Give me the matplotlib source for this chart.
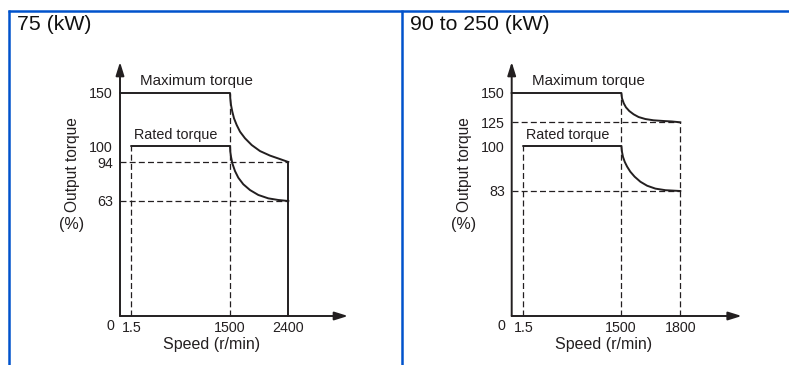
import numpy as np
import matplotlib
matplotlib.use('Agg')
import matplotlib.pyplot as plt
from matplotlib.lines import Line2D

plt.rcParams['font.family'] = ['Liberation Sans', 'DejaVu Sans']
plt.rcParams['lines.scale_dashes'] = False

W, H = 789, 365
INK = '#231f20'
BLUE = '#0052cc'

titles = ['75 (kW)', '90 to 250 (kW)']

# 75 kW panel
left_xticks = [1.5, 1500, 2400]
left_yticks = [63, 94, 100, 150]
left_max_speed = [0, 1500, 1508, 1512, 1523, 1543, 1569, 1610, 1661, 1737, 1840, 1967, 2120, 2273, 2400]
left_max_torque = [150, 150, 150, 145, 138.7, 132.4, 126.1, 119.8, 113.5, 107.3, 100.9, 98.1, 96.4, 95.1, 94]
left_rated_speed = [1.5, 1500, 1508, 1512, 1523, 1543, 1584, 1635, 1711, 1814, 1941, 2094, 2247, 2400]
left_rated_torque = [100, 100, 100, 97.9, 96.0, 93.0, 86.8, 81.5, 76.3, 71.7, 67.8, 65.1, 63.8, 63]

# 90 to 250 kW panel
right_xticks = [1.5, 1500, 1800]
right_yticks = [83, 100, 125, 150]
right_max_speed = [0, 1500, 1502, 1505, 1514, 1525, 1542, 1564, 1589, 1623, 1665, 1716, 1758, 1800]
right_max_torque = [150, 150, 150, 145.5, 141.2, 137.8, 134.6, 131.8, 129.5, 127.8, 126.7, 126.1, 125.7, 125]
right_rated_speed = [1.5, 1500, 1502, 1505, 1510, 1519, 1531, 1547, 1569, 1598, 1632, 1674, 1725, 1800]
right_rated_torque = [100, 100, 100, 97.8, 95.9, 94.0, 92.2, 90.3, 88.4, 86.5, 85.0, 83.9, 83.3, 83]

# schematic (non-linear) axis spacing: value -> pixels from origin
left_xscale = ([0, 1.5, 1500, 2400, 3300], [0, 11.3, 109.5, 168.3, 228])
left_yscale = ([0, 63, 94, 100, 150, 175], [0, 115, 154, 170, 223, 254])
right_xscale = ([0, 1.5, 1500, 1800, 2400], [0, 11.6, 109.3, 168.6, 230])
right_yscale = ([0, 83, 100, 125, 150, 175], [0, 125, 170, 193.7, 223, 254])


def piecewise(vals, pos):
    vals = np.asarray(vals, float)
    pos = np.asarray(pos, float)
    fwd = lambda v: np.interp(v, vals, pos)
    inv = lambda p: np.interp(p, pos, vals)
    return fwd, inv


def fx(x):
    return x / W


def fy(y):
    return 1 - y / H


fig = plt.figure(figsize=(W / 100, H / 100), dpi=100)

# blue table frame
fig.add_artist(Line2D([fx(8), 1], [fy(10.5), fy(10.5)], color=BLUE, lw=1.8, solid_capstyle='butt'))
fig.add_artist(Line2D([fx(9), fx(9)], [fy(10), 0], color=BLUE, lw=1.8, solid_capstyle='butt'))
fig.add_artist(Line2D([fx(401.5), fx(401.5)], [fy(10), 0], color=BLUE, lw=1.8, solid_capstyle='butt'))

panels = [
    (120, titles[0], 17, left_xticks, left_yticks, left_xscale, left_yscale,
     left_max_speed, left_max_torque, left_rated_speed, left_rated_torque),
    (511.7, titles[1], 410, right_xticks, right_yticks, right_xscale, right_yscale,
     right_max_speed, right_max_torque, right_rated_speed, right_rated_torque),
]

for (x0, title, tx, xt, yt, xs, ys, ms, mt, rs, rt) in panels:
    wpx = xs[1][-1]
    hpx = ys[1][-1]
    ax = fig.add_axes([fx(x0), fy(316), wpx / W, hpx / H])
    ax.set_xscale('function', functions=piecewise(*xs))
    ax.set_yscale('function', functions=piecewise(*ys))
    ax.set_xlim(0, xs[0][-1])
    ax.set_ylim(0, ys[0][-1])
    for s in ax.spines.values():
        s.set_visible(False)
    ax.patch.set_alpha(0)

    ax.set_xticks(xt)
    ax.set_xticklabels([('%g' % v) for v in xt])
    ax.set_yticks(yt)
    ax.set_yticklabels([('%g' % v) for v in yt])
    ax.tick_params(axis='both', length=0, labelsize=10.3, colors=INK)
    ax.tick_params(axis='x', pad=3.5)
    ax.tick_params(axis='y', pad=5)
    ax.minorticks_off()

    # axes with arrows
    ax.annotate('', xy=(0, 1), xytext=(0, 0), xycoords='axes fraction',
                arrowprops=dict(arrowstyle='-|>,head_length=0.8,head_width=0.25',
                                mutation_scale=10, lw=1.4, color=INK,
                                shrinkA=0, shrinkB=0))
    ax.annotate('', xy=(1, 0), xytext=(0, 0), xycoords='axes fraction',
                arrowprops=dict(arrowstyle='-|>,head_length=0.8,head_width=0.25',
                                mutation_scale=10, lw=1.4, color=INK,
                                shrinkA=0, shrinkB=0))

    dash = dict(color=INK, lw=0.9, dashes=(4.3, 2.3), clip_on=False)
    xend = xt[-1]
    # vertical guides
    ax.plot([xt[0], xt[0]], [0, 100], **dash)
    ax.plot([xt[1], xt[1]], [0, 150], **dash)
    # horizontal guides at curve end values
    ax.plot([0, xend], [mt[-1], mt[-1]], **dash)
    ax.plot([0, xend], [rt[-1], rt[-1]], **dash)
    if xend == 2400:
        ax.plot([xend, xend], [0, mt[-1]], color=INK, lw=1.4, clip_on=False)
    else:
        ax.plot([xend, xend], [0, mt[-1]], **dash)

    ax.plot(ms, mt, color=INK, lw=1.4, clip_on=False, solid_joinstyle='round')
    ax.plot(rs, rt, color=INK, lw=1.4, clip_on=False, solid_joinstyle='round')

    # labels
    fig.text(fx(tx), fy(25), title, fontsize=15.3, color='#111111', va='center', ha='left')
    fig.text(fx(x0 + 20), fy(81), 'Maximum torque', fontsize=10.9, color=INK, va='center')
    fig.text(fx(x0 + 14), fy(135.5), 'Rated torque', fontsize=10.4, color=INK, va='center')
    fig.text(fx(x0 - 47.5), fy(164.5), 'Output torque', fontsize=11.2, color=INK,
             rotation=90, va='center', ha='center')
    fig.text(fx(x0 - 48), fy(225), '(%)', fontsize=11.5, color=INK, va='center', ha='center')
    fig.text(fx(x0 + 92), fy(344), 'Speed (r/min)', fontsize=11.5, color=INK, va='center', ha='center')
    fig.text(fx(x0 - 10), fy(325.5), '0', fontsize=10.3, color=INK, va='center', ha='center')

fig.savefig('out.png', dpi=100)
